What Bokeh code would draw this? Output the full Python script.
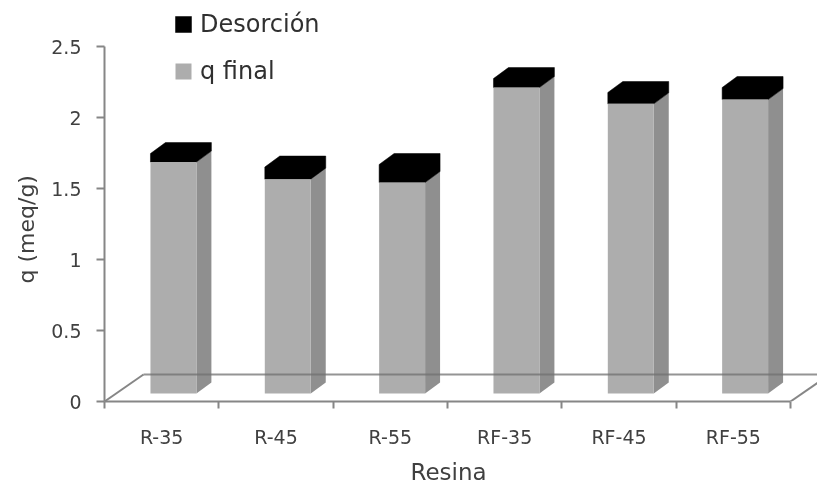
from bokeh.plotting import figure
from bokeh.embed import file_html
from bokeh.resources import INLINE
from bokeh.models import Range1d, FixedTicker, LinearAxis, Legend, LegendItem, Title

categories = ["R-35", "R-45", "R-55", "RF-35", "RF-45", "RF-55"]
q_final = [1.63, 1.51, 1.486, 2.155, 2.04, 2.07]
desorcion = [0.06, 0.085, 0.127, 0.063, 0.08, 0.085]
y_ticks = [0, 0.5, 1, 1.5, 2, 2.5]
y_labels = {0: "0", 0.5: "0.5", 1: "1", 1.5: "1.5", 2: "2", 2.5: "2.5"}

GRAY = "#adadad"
SIDE = "#8f8f8f"
AXIS = "#868686"
TEXT = "#404040"
FONT = "DejaVu Sans"

# oblique projection constants (data units)
BASE = 0.056
LEFT = 0.402
WIDTH = 0.402
DX = 0.131
DY = 0.0775
FLOOR_DX = 0.341
FLOOR_DY = 0.19
XMAX = 6.236

p = figure(width=817, height=491, output_backend="svg", toolbar_location=None,
           x_range=Range1d(0, XMAX), y_range=Range1d(0, 2.824),
           x_axis_location=None, y_axis_location=None,
           min_border_left=104, min_border_right=0, min_border_top=0, min_border_bottom=90,
           outline_line_color=None)
p.styles = {"position": "fixed", "left": "0px", "top": "0px"}
p.grid.visible = False
p.background_fill_color = "white"

yaxis = LinearAxis(ticker=FixedTicker(ticks=y_ticks), bounds=(0, 2.5),
                   major_label_overrides=y_labels, axis_line_color=AXIS, axis_line_width=2,
                   major_tick_line_color=AXIS, major_tick_line_width=2, major_tick_in=0, major_tick_out=8,
                   minor_tick_line_color=None, major_label_standoff=15,
                   major_label_text_font=FONT, major_label_text_font_size="19px",
                   major_label_text_color=TEXT)
p.add_layout(yaxis, "left")

xpos = [i + 0.5 for i in range(len(categories))]
xaxis = LinearAxis(ticker=FixedTicker(ticks=xpos, minor_ticks=list(range(len(categories) + 1))),
                   bounds=(0, 6),
                   major_label_overrides={x: c for x, c in zip(xpos, categories)},
                   axis_line_color=AXIS, axis_line_width=2,
                   major_tick_line_color=None, major_tick_in=0, major_tick_out=0,
                   minor_tick_line_color=AXIS, minor_tick_line_width=2, minor_tick_in=0, minor_tick_out=7,
                   major_label_standoff=17,
                   major_label_text_font=FONT, major_label_text_font_size="19px",
                   major_label_text_color=TEXT)
p.add_layout(xaxis, "below")

# axis titles, placed off-centre like the reference
p.add_layout(Title(text="q (meq/g)", align="left", offset=118, standoff=19,
                   text_font=FONT, text_font_size="22px", text_font_style="normal",
                   text_color=TEXT), "left")
p.add_layout(Title(text="Resina", align="left", offset=306, standoff=13,
                   text_font=FONT, text_font_size="23px", text_font_style="normal",
                   text_color=TEXT), "below")

# floor edges behind the bars
p.line([0, FLOOR_DX], [0, FLOOR_DY], line_color=AXIS, line_width=2)
p.line([6, 6 + FLOOR_DX], [0, FLOOR_DY], line_color=AXIS, line_width=2)

lefts = [i + LEFT for i in range(len(categories))]
rights = [l + WIDTH for l in lefts]
tops_q = [BASE + v for v in q_final]
tops_d = [t + d for t, d in zip(tops_q, desorcion)]

# side of grey part
side_x = [[r, r + DX, r + DX, r] for r in rights]
side_y = [[BASE, BASE + DY, t + DY, t] for t in tops_q]
p.patches(side_x, side_y, fill_color=SIDE, line_color=None)

# black cap: front, side and top as one outline
cap_x = [[l, r, r + DX, r + DX, l + DX, l] for l, r in zip(lefts, rights)]
cap_y = [[tq, tq, tq + DY, td + DY, td + DY, td] for tq, td in zip(tops_q, tops_d)]
r_des = p.patches(cap_x, cap_y, fill_color="black", line_color="black", line_width=0.5)

# grey front
r_q = p.quad(left=lefts, right=rights, bottom=[BASE] * 6, top=tops_q, fill_color=GRAY, line_color=None)

# floor back edge, over the bars
p.line([FLOOR_DX, XMAX + 1], [FLOOR_DY, FLOOR_DY], line_color="#707070", line_alpha=0.75, line_width=2)

legend = Legend(items=[LegendItem(label="Desorción", renderers=[r_des]),
                       LegendItem(label="q final", renderers=[r_q])],
                location=(69, 316), orientation="vertical",
                glyph_width=20, glyph_height=20, spacing=19, padding=0, margin=0,
                label_standoff=7, label_height=16,
                label_text_font=FONT, label_text_font_size="24px", label_text_color="#303030",
                background_fill_alpha=0, border_line_color=None)
p.add_layout(legend, "center")

open("out.html", "w").write(file_html(p, INLINE))
